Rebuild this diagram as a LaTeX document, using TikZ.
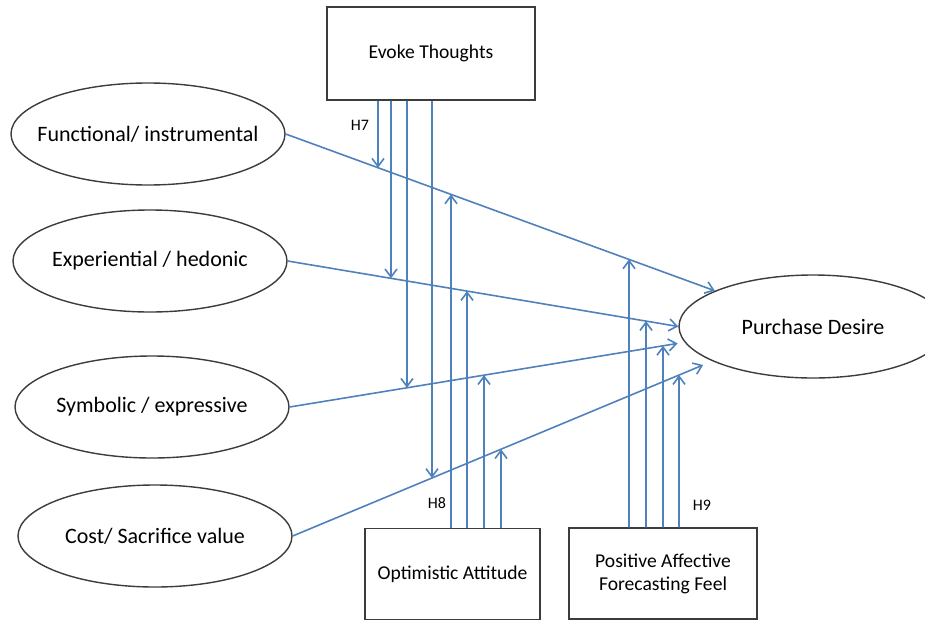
\documentclass[tikz,border=0pt]{standalone}
\usepackage{fontspec}
\setmainfont{Carlito}
\usetikzlibrary{arrows.meta,shapes.geometric}
\definecolor{azul}{RGB}{79,129,189}
\definecolor{borde}{RGB}{60,60,60}

\begin{document}
\begin{tikzpicture}[x=0.5pt,y=-0.5pt,
  valor/.style={draw=borde,line width=0.7pt,ellipse,inner xsep=-25pt,inner ysep=0pt,minimum width=137pt,minimum height=51pt,font=\fontsize{11}{13}\selectfont},
  caja/.style={draw=borde,line width=0.75pt,inner sep=0pt,align=center,font=\fontsize{9.8}{11.5}\selectfont},
  hip/.style={inner sep=0pt,font=\fontsize{8}{9}\selectfont},
  flecha/.style={draw=azul,line width=0.8pt,-{Straight Barb[length=4pt,width=6pt]}}
  ]
  \useasboundingbox (0,0) rectangle (925,621);
  \clip (0,0) rectangle (925,621);

  \node[valor] (fi) at (148,134) {Functional/ instrumental};
  \node[valor] (ex) at (150,261) {Experiential / hedonic};
  \node[valor] (sy) at (152,407) {Symbolic / expressive};
  \node[valor] (co) at (155,536) {Cost/ Sacrifice value};
  \node[valor,minimum width=134pt,minimum height=51.5pt] (pd) at (813,326.5) {Purchase Desire};

  \node[caja,minimum width=104pt,minimum height=46.5pt] (et) at (431,53.5) {Evoke Thoughts};
  \node[caja,minimum width=87.5pt,minimum height=45.5pt] (oa) at (452.5,574) {Optimistic Attitude};
  \node[caja,minimum width=94pt,minimum height=45.5pt] (pf) at (663,573.5) {Positive Affective\\Forecasting Feel};

  \node[hip] (h7) at (360,125) {H7};
  \node[hip] (h8) at (437,503) {H8};
  \node[hip] (h9) at (702,505) {H9};

  % ends of the four value paths
  \coordinate (f0) at (fi.east); \coordinate (f1) at (pd.160);
  \coordinate (e0) at (ex.east); \coordinate (e1) at (pd.west);
  \coordinate (s0) at (sy.east); \coordinate (s1) at (pd.187);
  \coordinate (c0) at (co.east); \coordinate (c1) at (pd.199.6);

  \draw[flecha] (f0) -- (f1);
  \draw[flecha] (e0) -- (e1);
  \draw[flecha,shorten >=3.5pt] (s0) -- (s1);
  \draw[flecha,shorten >=5pt] (c0) -- (c1);

  % moderators
  \foreach \x/\v in {378/f,391/e,407/s,432/c}
    \draw[flecha] (\x,0 |- et.south) -- (intersection of \v0--\v1 and \x,0--\x,1);
  \foreach \x/\v in {451/f,467/e,484/s,501/c}
    \draw[flecha] (\x,0 |- oa.north) -- (intersection of \v0--\v1 and \x,0--\x,1);
  \foreach \x/\v in {629/f,646/e,663/s,679/c}
    \draw[flecha] (\x,0 |- pf.north) -- (intersection of \v0--\v1 and \x,0--\x,1);

\end{tikzpicture}
\end{document}
